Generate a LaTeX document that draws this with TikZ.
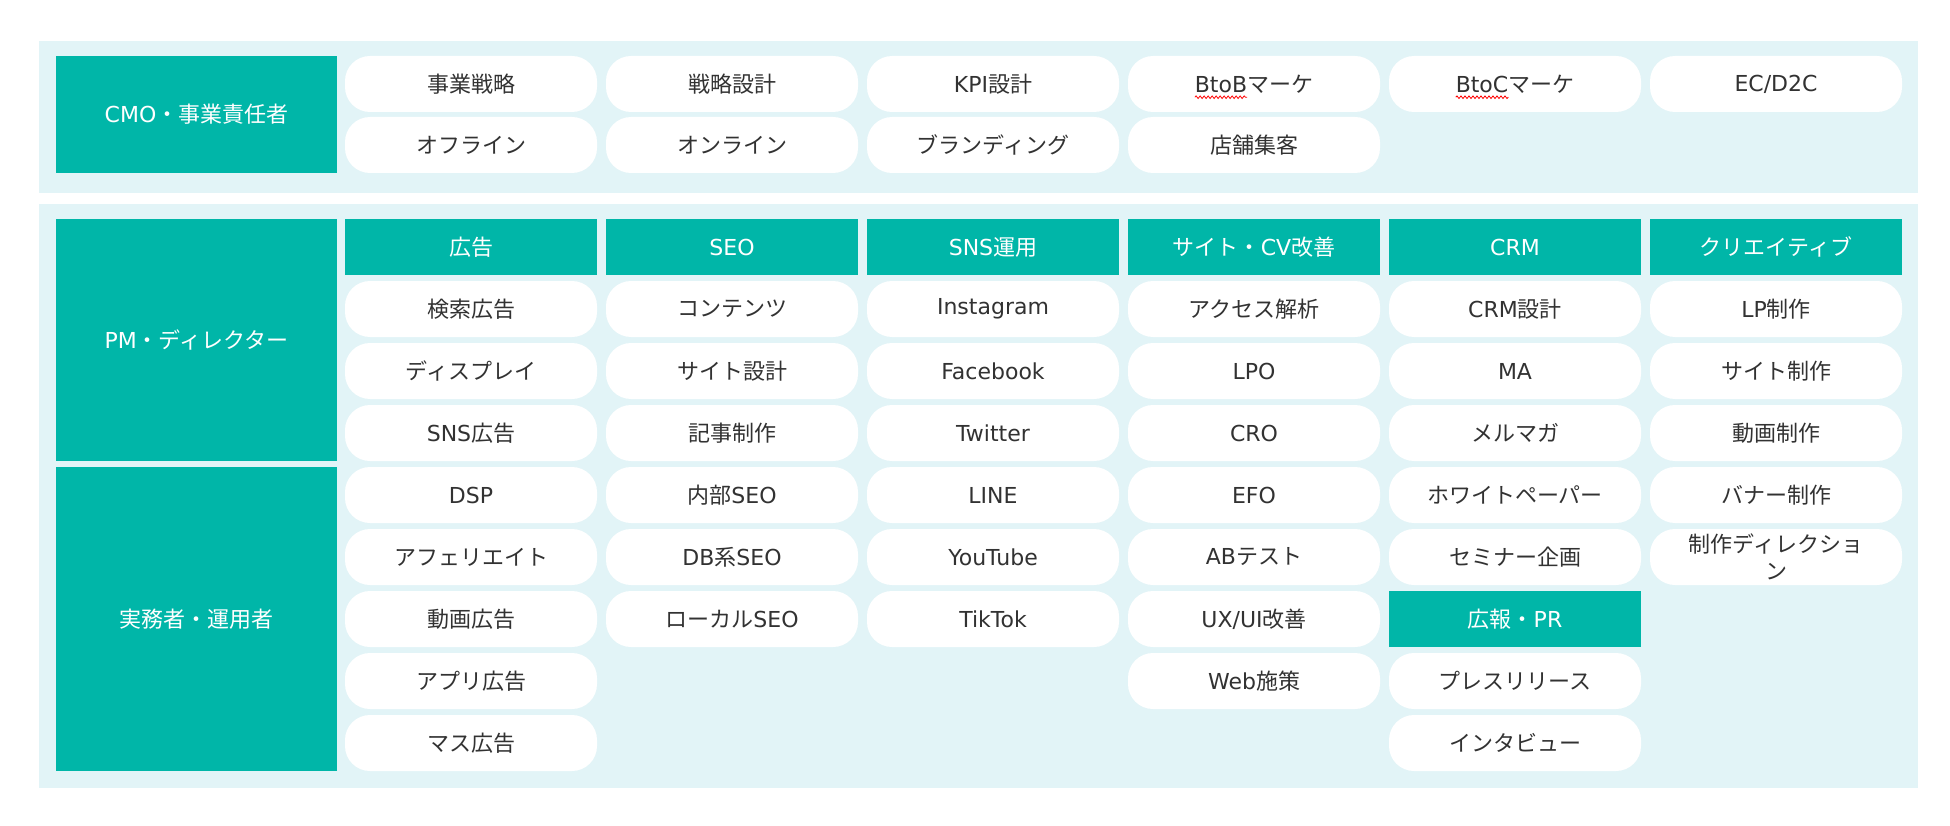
\documentclass[tikz,border=0pt]{standalone}
\usepackage{fontspec}
\setmainfont{Noto Sans CJK JP}
\newfontfamily\latfont{DejaVu Sans}
\newcommand\la[1]{{\latfont #1}}
\newcommand\fs{\fontsize{22pt}{28pt}\selectfont}
\usetikzlibrary{decorations.pathmorphing}
\definecolor{tealbox}{RGB}{0,182,168}
\definecolor{bandbg}{RGB}{226,244,247}
\definecolor{txt}{RGB}{50,50,50}
\newlength\btobw
\newlength\btocw
\tikzset{
  pill/.style={rectangle, rounded corners=25pt, fill=white, minimum width=252pt, minimum height=56pt, inner sep=0pt, text=txt, font=\fs, align=center},
  hdr/.style={rectangle, fill=tealbox, minimum width=252pt, minimum height=56pt, inner sep=0pt, text=white, font=\fs},
  role/.style={rectangle, fill=tealbox, minimum width=281pt, inner sep=0pt, text=white, font=\fs},
  lbl/.style={inner sep=0pt, outer sep=0pt, text=txt, font=\fs},
  squig/.style={red, line width=0.8pt, decorate, decoration={snake, amplitude=1.3pt, segment length=4pt}}
}
\begin{document}
\settowidth{\btobw}{\fs\la{BtoB}}%
\settowidth{\btocw}{\fs\la{BtoC}}%
\begin{tikzpicture}[x=1pt, y=-1pt]
\useasboundingbox (0,0) rectangle (1950,826);
\fill[bandbg] (39,41) rectangle (1918,193);
\fill[bandbg] (39,204) rectangle (1918,788);
% top band
\node[role, minimum height=117pt] (cmo) at (196.5,114.5) {\la{CMO}・事業責任者};
\node[pill] (a1) at (471,84) {事業戦略};
\node[pill] (a2) at (732,84) {戦略設計};
\node[pill] (a3) at (993,84) {\la{KPI}設計};
\node[pill] (a4) at (1254,84) {};
\node[lbl] (a4t) at (a4) {\la{BtoB}マーケ};
\node[pill] (a5) at (1515,84) {};
\node[lbl] (a5t) at (a5) {\la{BtoC}マーケ};
\node[pill] (a6) at (1776,84) {\la{EC/D2C}};
\node[pill] (b1) at (471,145) {オフライン};
\node[pill] (b2) at (732,145) {オンライン};
\node[pill] (b3) at (993,145) {ブランディング};
\node[pill] (b4) at (1254,145) {店舗集客};
\draw[squig] ([yshift=-5pt]a4t.base west) -- ([yshift=-5pt,xshift=\btobw]a4t.base west);
\draw[squig] ([yshift=-5pt]a5t.base west) -- ([yshift=-5pt,xshift=\btocw]a5t.base west);
% roles
\node[role, minimum height=242pt] (pm) at (196.5,340) {\la{PM}・ディレクター};
\node[role, minimum height=304pt] (op) at (196.5,619) {実務者・運用者};
% headers
\node[hdr] (h1) at (471,247) {広告};
\node[hdr] (h2) at (732,247) {\la{SEO}};
\node[hdr] (h3) at (993,247) {\la{SNS}運用};
\node[hdr] (h4) at (1254,247) {サイト・\la{CV}改善};
\node[hdr] (h5) at (1515,247) {\la{CRM}};
\node[hdr] (h6) at (1776,247) {クリエイティブ};
% column 1
\foreach \t [count=\r] in {検索広告, ディスプレイ, \la{SNS}広告, \la{DSP}, アフェリエイト, 動画広告, アプリ広告, マス広告}
  \node[pill] (c1r\r) at (471,247+62*\r) {\t};
% column 2
\foreach \t [count=\r] in {コンテンツ, サイト設計, 記事制作, 内部\la{SEO}, \la{DB}系\la{SEO}, ローカル\la{SEO}}
  \node[pill] (c2r\r) at (732,247+62*\r) {\t};
% column 3
\foreach \t [count=\r] in {\la{Instagram}, \la{Facebook}, \la{Twitter}, \la{LINE}, \la{YouTube}, \la{TikTok}}
  \node[pill] (c3r\r) at (993,247+62*\r) {\t};
% column 4
\foreach \t [count=\r] in {アクセス解析, \la{LPO}, \la{CRO}, \la{EFO}, \la{AB}テスト, \la{UX/UI}改善, \la{Web}施策}
  \node[pill] (c4r\r) at (1254,247+62*\r) {\t};
% column 5
\foreach \t [count=\r] in {\la{CRM}設計, \la{MA}, メルマガ, ホワイトペーパー, セミナー企画}
  \node[pill] (c5r\r) at (1515,247+62*\r) {\t};
\node[hdr] (h7) at (1515,619) {広報・\la{PR}};
\node[pill] (c5r7) at (1515,681) {プレスリリース};
\node[pill] (c5r8) at (1515,743) {インタビュー};
% column 6
\foreach \t [count=\r] in {\la{LP}制作, サイト制作, 動画制作, バナー制作}
  \node[pill] (c6r\r) at (1776,247+62*\r) {\t};
\node[pill] (c6r5) at (1776,557) {制作ディレクショ\\[-1pt]ン};
\end{tikzpicture}
\end{document}
